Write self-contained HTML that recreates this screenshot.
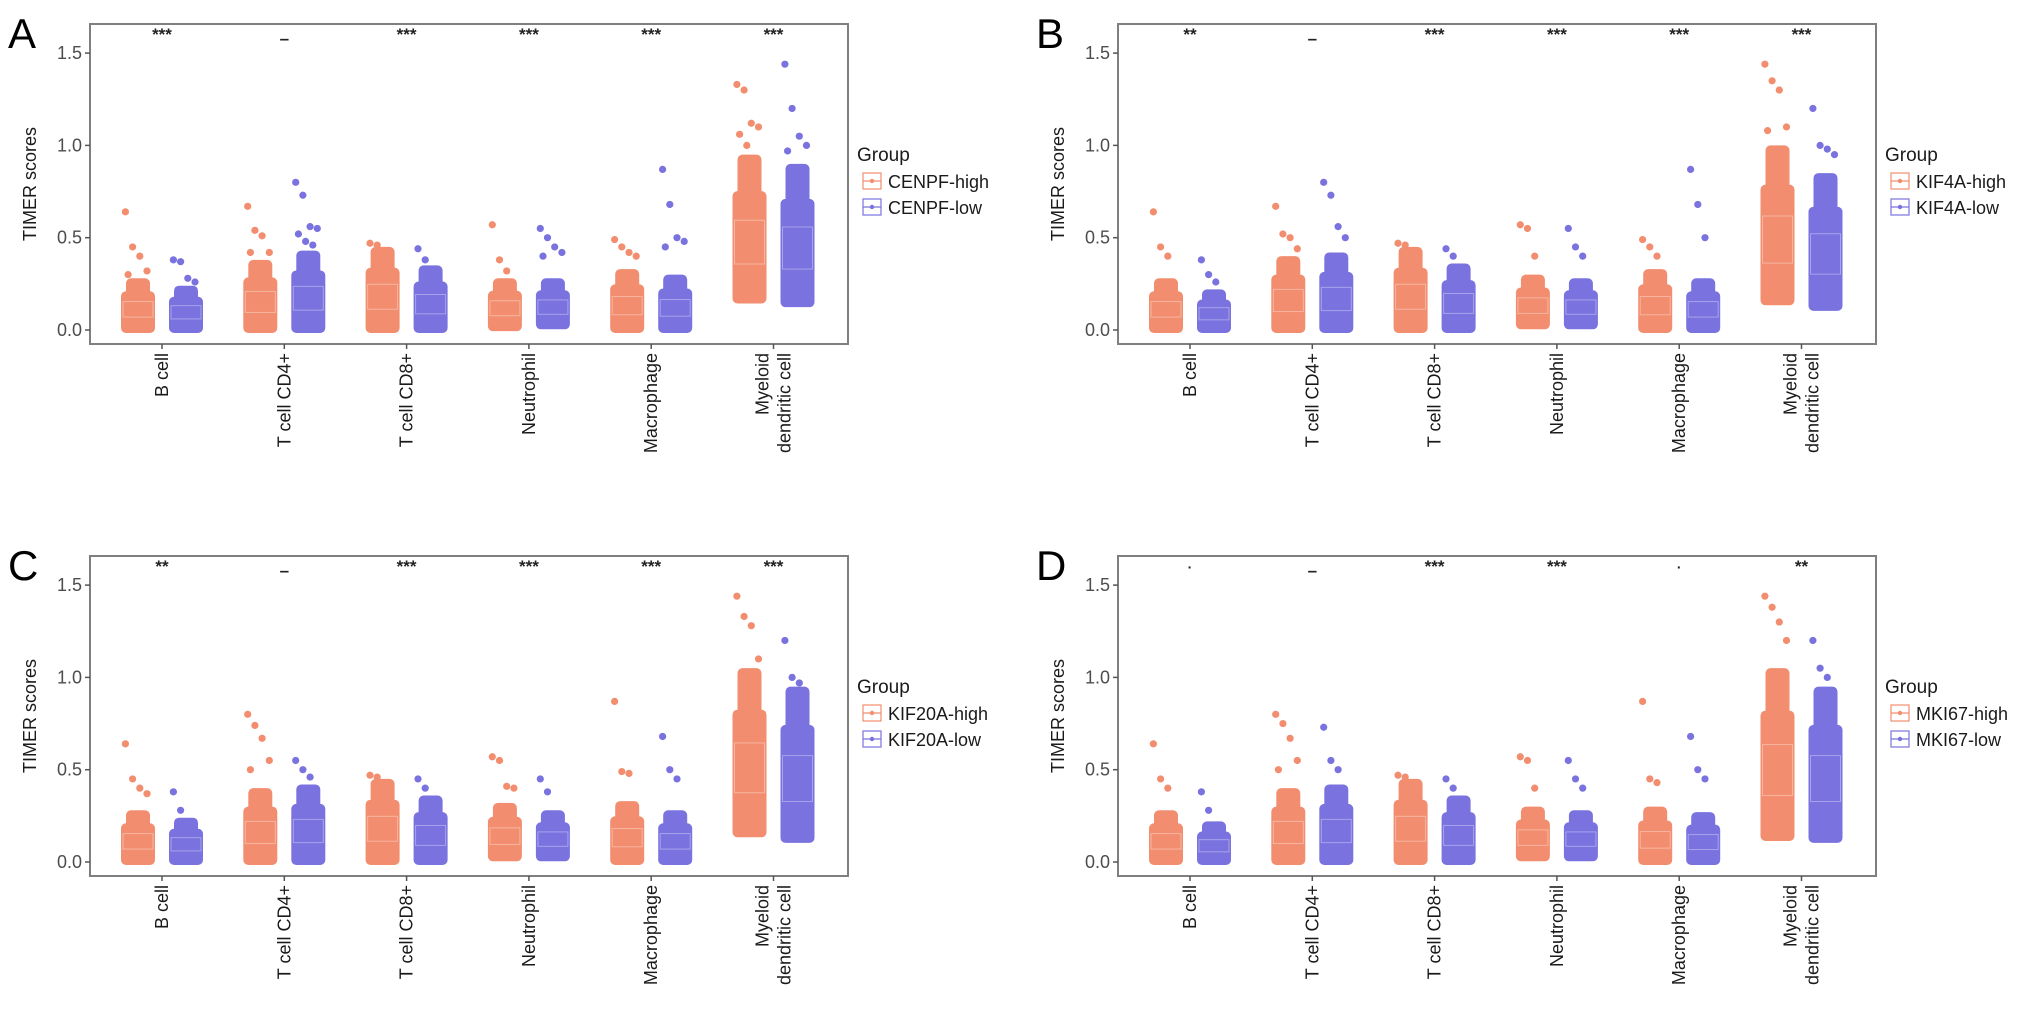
<!DOCTYPE html>
<html><head><meta charset="utf-8"><style>
html,body{margin:0;padding:0;background:#fff}
svg{display:block}
text{font-family:"Liberation Sans",Arial,sans-serif}
</style></head><body>
<svg id="fig" width="2032" height="1010" viewBox="0 0 2032 1010" xmlns="http://www.w3.org/2000/svg"></svg>
<script>
const categories = ["B cell","T cell CD4+","T cell CD8+","Neutrophil","Macrophage","Myeloid|dendritic cell"];
const yTicks = [0.0, 0.5, 1.0, 1.5];
const yTickLabels = ["0.0","0.5","1.0","1.5"];
const panelLetters = ["A","B","C","D"];
const genes = ["CENPF","KIF4A","KIF20A","MKI67"];
const signifA = ["***","–","***","***","***","***"];
const signifB = ["**","–","***","***","***","***"];
const signifC = ["**","–","***","***","***","***"];
const signifD = ["·","–","***","***","·","**"];
const coreHighA = [[0,0.28],[0,0.38],[0,0.45],[0.01,0.28],[0,0.33],[0.16,0.95]];
const coreLowA  = [[0,0.24],[0,0.43],[0,0.35],[0.02,0.28],[0,0.30],[0.14,0.90]];
const outHighA = [[0.64,0.45,0.40,0.32,0.30],[0.67,0.54,0.51,0.42,0.42],[0.47,0.46,0.42],[0.57,0.38,0.32],[0.49,0.45,0.42,0.40],[1.33,1.30,1.12,1.10,1.06,1.00]];
const outLowA  = [[0.38,0.37,0.28,0.26],[0.80,0.73,0.56,0.55,0.52,0.48,0.46],[0.44,0.38],[0.55,0.50,0.45,0.42,0.40],[0.87,0.68,0.50,0.48,0.45],[1.44,1.20,1.05,1.00,0.97]];
const coreHighB = [[0,0.28],[0,0.40],[0,0.45],[0.02,0.30],[0,0.33],[0.15,1.0]];
const coreLowB  = [[0,0.22],[0,0.42],[0,0.36],[0.02,0.28],[0,0.28],[0.12,0.85]];
const outHighB = [[0.64,0.45,0.40],[0.67,0.52,0.50,0.44],[0.47,0.46],[0.57,0.55,0.40],[0.49,0.45,0.40],[1.44,1.35,1.30,1.10,1.08]];
const outLowB  = [[0.38,0.30,0.26],[0.80,0.73,0.56,0.50],[0.44,0.40],[0.55,0.45,0.40],[0.87,0.68,0.50],[1.20,1.00,0.98,0.95]];
const coreHighC = [[0,0.28],[0,0.40],[0,0.45],[0.02,0.32],[0,0.33],[0.15,1.05]];
const coreLowC  = [[0,0.24],[0,0.42],[0,0.36],[0.02,0.28],[0,0.28],[0.12,0.95]];
const outHighC = [[0.64,0.45,0.40,0.37],[0.80,0.74,0.67,0.55,0.50],[0.47,0.46],[0.57,0.55,0.41,0.40],[0.87,0.49,0.48],[1.44,1.33,1.28,1.10]];
const outLowC  = [[0.38,0.28],[0.55,0.50,0.46],[0.45,0.40],[0.45,0.38],[0.68,0.50,0.45],[1.20,1.00,0.97]];
const coreHighD = [[0,0.28],[0,0.40],[0,0.45],[0.02,0.30],[0,0.30],[0.13,1.05]];
const coreLowD  = [[0,0.22],[0,0.42],[0,0.36],[0.02,0.28],[0,0.27],[0.12,0.95]];
const outHighD = [[0.64,0.45,0.40],[0.80,0.75,0.67,0.55,0.50],[0.47,0.46],[0.57,0.55,0.40],[0.87,0.45,0.43],[1.44,1.38,1.30,1.20]];
const outLowD  = [[0.38,0.28],[0.73,0.55,0.50],[0.45,0.40],[0.55,0.45,0.40],[0.68,0.50,0.45],[1.20,1.05,1.00]];

const panels = [
 {ox:0,oy:0,sig:signifA,ch:coreHighA,cl:coreLowA,oh:outHighA,ol:outLowA},
 {ox:1028,oy:0,sig:signifB,ch:coreHighB,cl:coreLowB,oh:outHighB,ol:outLowB},
 {ox:0,oy:532,sig:signifC,ch:coreHighC,cl:coreLowC,oh:outHighC,ol:outLowC},
 {ox:1028,oy:532,sig:signifD,ch:coreHighD,cl:coreLowD,oh:outHighD,ol:outLowD}
];
const HIGH="#F28E6F", LOW="#7A72DF";
const NS="http://www.w3.org/2000/svg";
const svg=document.getElementById('fig');
function el(tag,attrs,parent,txt){const e=document.createElementNS(NS,tag);for(const k in attrs)e.setAttribute(k,attrs[k]);if(txt!==undefined)e.textContent=txt;(parent||svg).appendChild(e);return e;}

panels.forEach((p,pi)=>{
  const L=90+p.ox,R=848+p.ox,T=24+p.oy,B=344+p.oy;
  const y=v=>330+p.oy-v*184.6;
  const x=i=>162+p.ox+i*122.3;
  const g=el('g',{});
  
  
  const lt=el('text',{x:8+p.ox,y:48+p.oy,'font-size':42},g,panelLetters[pi]);
  
  const box=el('rect',{x:L,y:T,width:R-L,height:B-T,fill:'#fff',stroke:'#7f7f7f','stroke-width':2},g);
  
  yTicks.forEach((v,i)=>{
    el('line',{x1:L-5,x2:L,y1:y(v),y2:y(v),stroke:'#555','stroke-width':1.5},g);
    const t=el('text',{x:L-8,y:y(v)+6,'text-anchor':'end','font-size':18,fill:'#4d4d4d'},g,yTickLabels[i]);
    
  });
  const yt=el('text',{x:0,y:0,'font-size':18,fill:'#1a1a1a','text-anchor':'middle',transform:`translate(${36+p.ox},${184+p.oy}) rotate(-90)`},g,'TIMER scores');
  
  categories.forEach((c,i)=>{
    const cx=x(i);
    el('line',{x1:cx,x2:cx,y1:B,y2:B+5,stroke:'#555','stroke-width':1.5},g);
    const lines=c.split('|');
    lines.forEach((ln,k)=>{
      const off=lines.length>1?(k===0?-5:17):6;
      const t=el('text',{x:0,y:0,'font-size':18,fill:'#1a1a1a','text-anchor':'end',transform:`translate(${cx+off},${B+9}) rotate(-90)`},g,ln);
      
    });
    const s=el('text',{x:cx,y:T+(p.sig[i]==='–'?20:16),'text-anchor':'middle','font-size':p.sig[i]==='·'?14:17,'font-weight':'bold',fill:'#222'},g,p.sig[i]);
    
    [[p.ch[i],p.oh[i],HIGH,-24,'high'],[p.cl[i],p.ol[i],LOW,24,'low']].forEach(([core,outs,col,dx,nm])=>{
      const gx=cx+dx;
      const lo=core[0],hi=core[1],mid=lo+(hi-lo)*0.75;
      const r=el('rect',{x:gx-17,y:y(mid),width:34,height:y(lo)-y(mid)+3,rx:5,fill:col},g);
      
      const r2=el('rect',{x:gx-12,y:y(hi),width:24,height:y(lo)-y(hi)-10,rx:5,fill:col},g);
      
      const q1=lo+(hi-lo)*0.25,q3=lo+(hi-lo)*0.55;
      el('rect',{x:gx-15,y:y(q3),width:30,height:y(q1)-y(q3),fill:'none',stroke:'#fff','stroke-opacity':0.35,'stroke-width':1},g);
      outs.forEach((v,k)=>{
        const jx=((k*37)%29-14)*0.9;
        const d=el('circle',{cx:gx+jx,cy:y(v),r:3.6,fill:col},g);
        
      });
    });
  });
  const lg=el('g',{},g);
  
  el('text',{x:R+9,y:161+p.oy,'font-size':19,fill:'#1a1a1a'},lg,'Group');
  [[HIGH,genes[pi]+'-high',182],[LOW,genes[pi]+'-low',208]].forEach(([col,lab,yy])=>{
    const k=el('g',{},lg);
    
    el('rect',{x:R+15,y:yy+p.oy-9,width:18,height:16,fill:'none',stroke:col,'stroke-width':1.2},k);
    el('line',{x1:R+15,x2:R+33,y1:yy+p.oy-1,y2:yy+p.oy-1,stroke:col,'stroke-width':1.2},k);
    el('circle',{cx:R+24,cy:yy+p.oy-1,r:2.2,fill:col},k);
    el('text',{x:R+40,y:yy+p.oy+6,'font-size':18,fill:'#1a1a1a'},k,lab);
  });
});
</script>
</body></html>
